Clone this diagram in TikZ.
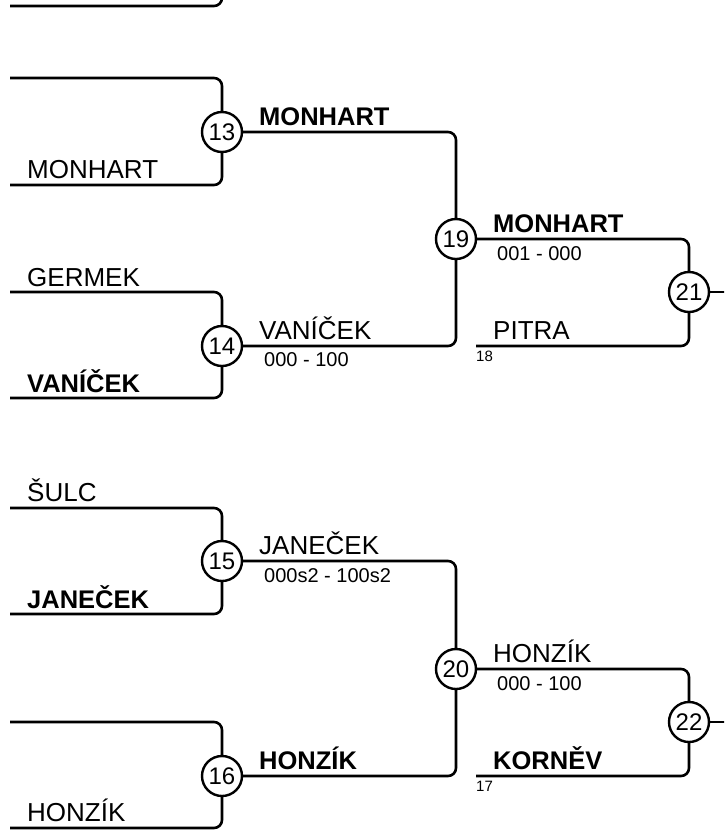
\documentclass[tikz,border=0pt]{standalone}
\usepackage{fontspec}
\setmainfont{Liberation Sans}
\begin{document}
\begin{tikzpicture}[x=1pt,y=-1pt,
  conn/.style={line width=2.6pt, rounded corners=8pt},
  mcircle/.style={circle, draw, line width=2.4pt, fill=white, minimum size=40pt, inner sep=0pt, font=\fontsize{24}{24}\selectfont},
  pname/.style={anchor=base west, inner sep=0pt, font=\fontsize{26}{26}\selectfont},
  pwin/.style={anchor=base west, inner sep=0pt, font=\fontsize{25.5}{26}\selectfont\bfseries},
  pscore/.style={anchor=base west, inner sep=0pt, font=\fontsize{20}{20}\selectfont},
  pseed/.style={anchor=base west, inner sep=0pt, font=\fontsize{15}{15}\selectfont}]
\useasboundingbox (0,0) rectangle (724,831);
\clip (0,0) rectangle (724,831);

% free ends
\coordinate (t0) at (10,6);
\coordinate (t1) at (222,-30);
\coordinate (a13) at (10,78);
\coordinate (b13) at (10,185);
\coordinate (a14) at (10,292);
\coordinate (b14) at (10,398);
\coordinate (a15) at (10,508);
\coordinate (b15) at (10,614);
\coordinate (a16) at (10,722);
\coordinate (b16) at (10,828);
\coordinate (s18) at (476,346);
\coordinate (s17) at (476,776);
\coordinate (e21) at (740,292);
\coordinate (e22) at (740,722);

% match circles
\node[mcircle] (c13) at (222,132) {13};
\node[mcircle] (c14) at (222,346) {14};
\node[mcircle] (c15) at (222,561) {15};
\node[mcircle] (c16) at (222,776) {16};
\node[mcircle] (c19) at (456,239) {19};
\node[mcircle] (c20) at (456,669) {20};
\node[mcircle] (c21) at (689,292) {21};
\node[mcircle] (c22) at (689,722) {22};

% connectors
\draw[conn] (t0) -| (t1);
\draw[conn] (a13) -| (c13);
\draw[conn] (b13) -| (c13);
\draw[conn] (a14) -| (c14);
\draw[conn] (b14) -| (c14);
\draw[conn] (a15) -| (c15);
\draw[conn] (b15) -| (c15);
\draw[conn] (a16) -| (c16);
\draw[conn] (b16) -| (c16);
\draw[conn] (c13) -| (c19);
\draw[conn] (c14) -| (c19);
\draw[conn] (c15) -| (c20);
\draw[conn] (c16) -| (c20);
\draw[conn] (c19) -| (c21);
\draw[conn] (s18) -| (c21);
\draw[conn] (c20) -| (c22);
\draw[conn] (s17) -| (c22);
\draw[conn] (c21) -- (e21);
\draw[conn] (c22) -- (e22);

% first column names
\node[pname] (n1) at (27,178.5) {MONHART};
\node[pname] (n2) at (27,286.5) {GERMEK};
\node[pwin] (n3) at (27,392.5) {VANÍČEK};
\node[pname] (n4) at (27,501) {ŠULC};
\node[pwin] (n5) at (27,608) {JANEČEK};
\node[pname] (n6) at (27,821) {HONZÍK};

% second column
\node[pwin] (w13) at (259,125.5) {MONHART};
\node[pname] (w14) at (259,339) {VANÍČEK};
\node[pscore] (r14) at (264,366.5) {000 - 100};
\node[pname] (w15) at (259,554) {JANEČEK};
\node[pscore] (r15) at (264,582.5) {000s2 - 100s2};
\node[pwin] (w16) at (259,769.5) {HONZÍK};

% third column
\node[pwin] (w19) at (493,232) {MONHART};
\node[pscore] (r19) at (497,260) {001 - 000};
\node[pname] (p18) at (493,339) {PITRA};
\node[pseed] (d18) at (476,361) {18};
\node[pname] (w20) at (493,662) {HONZÍK};
\node[pscore] (r20) at (497,690) {000 - 100};
\node[pwin] (p17) at (493,769) {KORNĚV};
\node[pseed] (d17) at (476,791) {17};
\end{tikzpicture}
\end{document}
